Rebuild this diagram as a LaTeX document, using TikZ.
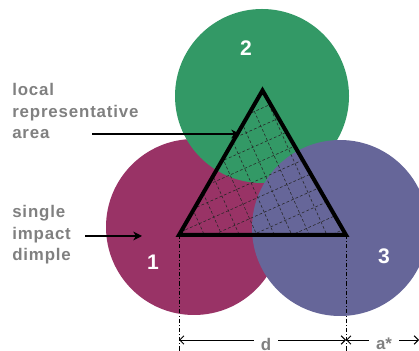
\documentclass[tikz,border=0pt]{standalone}
\usepackage{fontspec}
\setmainfont{Liberation Sans}
\usetikzlibrary{arrows.meta}
\definecolor{dimplered}{RGB}{153,51,102}
\definecolor{dimplegreen}{RGB}{51,153,102}
\definecolor{dimpleblue}{RGB}{102,102,153}
\definecolor{labelgray}{RGB}{128,128,128}

\begin{document}
\begin{tikzpicture}[x=0.25mm, y=-0.25mm,
    lbl/.style={labelgray, align=left, inner sep=0pt, anchor=north west,
      font=\bfseries\fontsize{12}{15.4}\selectfont\addfontfeatures{LetterSpace=5}},
    num/.style={white, font=\bfseries\fontsize{15}{18}\selectfont},
    dimlbl/.style={labelgray, inner xsep=5pt, font=\bfseries\fontsize{12}{14}\selectfont},
    hatch/.style={black!85, line width=0.4pt, dash pattern=on 2pt off 1.5pt},
    dimline/.style={line width=0.6pt, dash pattern=on 3pt off 1.5pt on 0.6pt off 1.5pt},
    dimarrow/.style={line width=0.7pt, -{Straight Barb[length=3pt,width=6pt]}},
    pointer/.style={line width=0.9pt, -{Stealth[length=2.2mm,width=2.2mm]}}]
  \useasboundingbox (0,0) rectangle (419,351);

  % three overlapping dimples
  \fill[dimplered] (194,227) circle (88);
  \fill[dimplegreen] (262,96) circle (87);
  \fill[dimpleblue] (340,228) circle (88);

  \node[num] (n2) at (246,48) {2};
  \node[num] (n1) at (153,262) {1};
  \node[num] (n3) at (384,256) {3};

  % corners of the representative triangle
  \coordinate (A) at (179,235);
  \coordinate (B) at (346,235);
  \coordinate (C) at (262.5,90.4);

  % hatched area
  \begin{scope}
    \clip (A) -- (B) -- (C) -- cycle;
    \begin{scope}[shift={(C)}, rotate=24]
      \foreach \k in {-12,...,12} {
        \draw[hatch] (-250,\k*16) -- (250,\k*16);
        \draw[hatch] (\k*16,-250) -- (\k*16,250);
      }
    \end{scope}
  \end{scope}
  \draw[line width=1mm] (A) -- (B) -- (C) -- cycle;

  % dimensions d and a*
  \coordinate (Alow) at (179,351);
  \coordinate (Blow) at (346,351);
  \coordinate (dL) at (179,340);
  \coordinate (dR) at (346,340);
  \coordinate (aR) at (419,340);
  \draw[dimline] (A) -- (Alow);
  \draw[dimline] (B) -- (Blow);
  \node[dimlbl] (dlab) at (266,344) {d};
  \node[dimlbl] (alab) at (384,344) {a*};
  \draw[dimarrow] (dlab.west |- dL) -- (dL);
  \draw[dimarrow] (dlab.east |- dR) -- (dR);
  \draw[dimarrow] (alab.west |- dR) -- (dR);
  \draw[dimarrow] (alab.east |- aR) -- (aR);

  % labels with pointers
  \node[lbl] (lra) at (12,83) {local\\representative\\area};
  \coordinate (lraFrom) at (92,134);
  \coordinate (lraTo) at (240,134);
  \draw[pointer] (lraFrom) -- (lraTo);

  \node[lbl] (sid) at (12,205) {single\\impact\\dimple};
  \coordinate (sidFrom) at (85,236);
  \coordinate (sidTo) at (142,236);
  \draw[pointer] (sidFrom) -- (sidTo);
\end{tikzpicture}
\end{document}
